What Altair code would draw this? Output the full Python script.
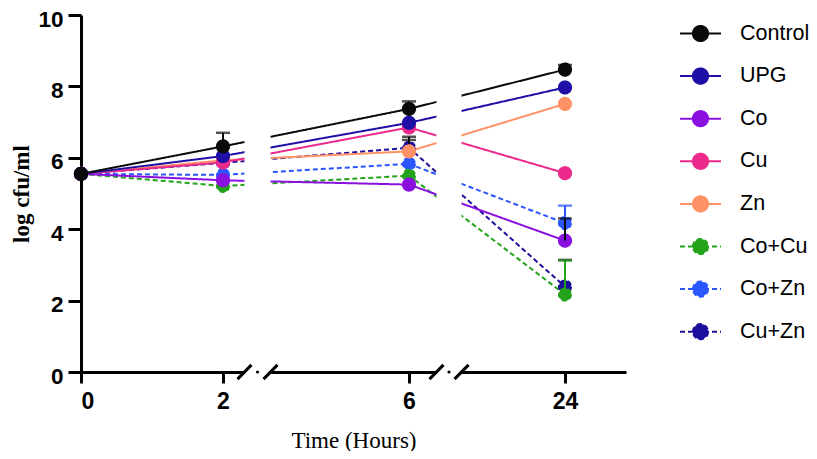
import altair as alt
import pandas as pd

# ---- data ----
series = ["Control", "UPG", "Co", "Cu", "Zn", "Co+Cu", "Co+Zn", "Cu+Zn"]
colors = ["#0a0a0a", "#1f0fa6", "#8a10e0", "#ec2a8c", "#ff9266", "#22a31a", "#2b55ff", "#1e0e9c"]
dashes = [[1, 0], [1, 0], [1, 0], [1, 0], [1, 0], [5, 3], [5, 3], [5, 3]]

hours = [0, 2, 6, 24]
control = [5.55, 6.32, 7.37, 8.47]
upg = [5.55, 6.05, 6.98, 7.97]
co = [5.55, 5.37, 5.25, 3.68]
cu = [5.55, 5.87, 6.85, 5.57]
zn = [5.55, 5.93, 6.18, 7.51]
co_cu = [5.55, 5.21, 5.50, 2.17]
co_zn = [5.55, 5.52, 5.83, 4.17]
cu_zn = [5.55, 5.86, 6.28, 2.39]
values = [control, upg, co, cu, zn, co_cu, co_zn, cu_zn]

# error bars (upper side only, as drawn)
err_hours = [2, 6, 6, 6, 24, 24, 24, 24, 24]
err_low = [6.32, 7.37, 6.40, 6.40, 8.47, 4.17, 3.68, 2.39, 2.17]
err_high = [6.70, 7.58, 6.59, 6.50, 8.60, 4.66, 4.30, 3.14, 3.12]
err_color = ["#0a0a0a", "#0a0a0a", "#0a0a0a", "#0a0a0a", "#0a0a0a",
             "#2b55ff", "#0a0a0a", "#0a0a0a", "#22a31a"]

# broken x axis: piecewise scale and break positions (in hours)
x_domain = [0, 2, 6, 24, 31]
x_range = [0, 142, 328, 484, 545]
gap_start = [2.462, 9.17]
gap_end = [3.022, 12.06]
slash_half = [0.15, 0.81]

# ---- tables ----
rows = []
for s, v in reversed(list(zip(series, values))):
    for h, y in zip(hours, v):
        rows.append({"series": s, "hours": h, "cfu": y})
df = pd.DataFrame(rows)

err = pd.DataFrame({"hours": err_hours, "cfu": err_low, "hi": err_high, "ec": err_color})

gaps = pd.DataFrame({"hours": gap_start, "g1": gap_end, "cfu": [-0.12] * 2, "y1": [10.3] * 2})
sl = []
for a, b, w in zip(gap_start, gap_end, slash_half):
    for c in (a, b):
        sl.append({"hours": c - w, "sx1": c + w, "cfu": -0.2, "sy1": 0.2})
slashes = pd.DataFrame(sl)
dots = pd.DataFrame({"hours": [(a + b) / 2 for a, b in zip(gap_start, gap_end)], "cfu": [0, 0]})

xscale = alt.Scale(domain=x_domain, range=x_range, nice=False, zero=False)
yscale = alt.Scale(domain=[0, 10], nice=False, zero=True)

x_axis = alt.Axis(values=hours, title="Time (Hours)", grid=False,
                  labelFont="Liberation Sans", labelFontWeight="bold", labelFontSize=23,
                  labelColor="black", labelPadding=7,
                  titleFont="Liberation Serif", titleFontWeight="normal", titleFontSize=23,
                  titleColor="black", titlePadding=16,
                  domainColor="black", domainWidth=3, tickColor="black", tickWidth=3, tickSize=11)
y_axis = alt.Axis(values=[0, 2, 4, 6, 8, 10], title="log cfu/ml", grid=False,
                  labelFont="Liberation Sans", labelFontWeight="bold", labelFontSize=22.5,
                  labelColor="black", labelPadding=5, labelOffset=4,
                  titleFont="Liberation Serif", titleFontWeight="bold", titleFontSize=23,
                  titleColor="black", titlePadding=4,
                  domainColor="black", domainWidth=3, tickColor="black", tickWidth=3, tickSize=13)

sym_path = ("M-1,0L1,0M-0.37,0A0.37,0.37,0,1,1,0.37,0A0.37,0.37,0,1,1,-0.37,0Z")
leg = alt.Legend(title=None, orient="none", legendX=598, legendY=-3, padding=0,
                 symbolType=sym_path, symbolSize=1681, symbolStrokeWidth=2,
                 labelFont="Liberation Sans", labelFontSize=21.5, labelColor="black",
                 labelOffset=18, rowPadding=8.6, labelLimit=200)

fill_scale = alt.Scale(domain=series, range=colors)
dash_scale = alt.Scale(domain=series, range=dashes)

X = alt.X("hours:Q", scale=xscale, axis=x_axis)
Y = alt.Y("cfu:Q", scale=yscale, axis=y_axis)

lines = alt.Chart(df).mark_line(strokeWidth=2).encode(
    x=X, y=Y,
    stroke=alt.Stroke("series:N", scale=fill_scale, legend=leg),
    strokeDash=alt.StrokeDash("series:N", scale=dash_scale, legend=leg),
    detail="series:N",
)

gap_rects = alt.Chart(gaps).mark_rect(color="white").encode(
    x=X, x2="g1:Q", y=Y, y2="y1:Q",
)

slash_marks = alt.Chart(slashes).mark_rule(color="black", strokeWidth=3).encode(
    x=X, x2="sx1:Q", y=Y, y2="sy1:Q",
)

dot_marks = alt.Chart(dots).mark_point(filled=True, color="black", size=10, opacity=1).encode(
    x=X, y=Y,
)

points = alt.Chart(df).mark_point(filled=True, size=160, opacity=1, strokeWidth=1.5).encode(
    x=X, y=Y,
    fill=alt.Fill("series:N", scale=fill_scale, legend=leg),
    stroke=alt.Stroke("series:N", scale=fill_scale, legend=leg),
    strokeDash=alt.StrokeDash("series:N", scale=dash_scale, legend=leg),
)

err_rules = alt.Chart(err).mark_rule(strokeWidth=2).encode(
    x=X, y=Y, y2="hi:Q",
    color=alt.Color("ec:N", scale=None),
)
err_caps = alt.Chart(err).mark_tick(orient="horizontal", size=14, thickness=2.5).encode(
    x=X, y=alt.Y("hi:Q", scale=yscale, axis=y_axis),
    color=alt.Color("ec:N", scale=None),
)

chart = alt.layer(lines, gap_rects, slash_marks, dot_marks, points, err_rules, err_caps).properties(
    width=545, height=357,
    padding={"left": 73, "top": 7, "right": 183, "bottom": 79},
    autosize=alt.AutoSizeParams(type="none"),
    background="white",
).configure_view(stroke=None)

chart.save("out.html", embed_options={"renderer": "svg", "actions": False})
